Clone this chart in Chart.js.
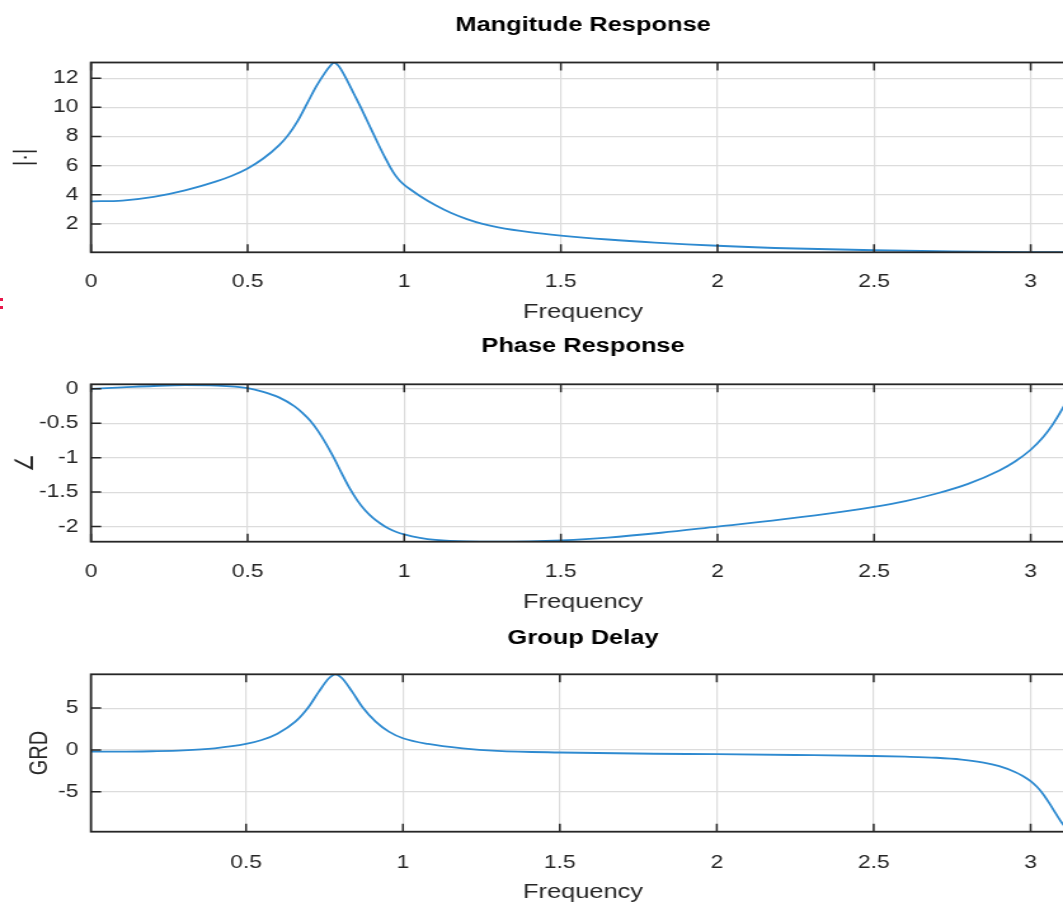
<!DOCTYPE html>
<html>
<head>
<meta charset="utf-8">
<title>Filter Response</title>
<script src="https://cdn.jsdelivr.net/npm/chart.js@4.4.1/dist/chart.umd.min.js"></script>
<style>
  html, body { margin: 0; padding: 0; background: #fff; }
  body { width: 1063px; height: 904px; overflow: hidden; position: relative; }
  /* the plots are drawn narrow and widened, so text and marks keep the wide look */
  .panel { position: absolute; left: 0; transform: scaleX(1.27); transform-origin: 0 0; }
  .panel canvas { display: block; }
  .edge-mark { position: absolute; left: 0; width: 3px; height: 3px; background: #e8174a; }
</style>
</head>
<body>
<div class="panel" style="top:0px"><canvas id="magChart" width="880" height="330"></canvas></div>
<div class="panel" style="top:330px"><canvas id="phaseChart" width="880" height="290"></canvas></div>
<div class="panel" style="top:620px"><canvas id="grdChart" width="880" height="284"></canvas></div>
<div class="edge-mark" style="top:298px"></div>
<div class="edge-mark" style="top:306px"></div>
<script>
// Magnitude |H(w)|
const freqMag = [0, 0.1, 0.2, 0.3, 0.4, 0.45, 0.5, 0.55, 0.6, 0.63, 0.66, 0.69, 0.72, 0.745, 0.762, 0.776, 0.79,
  0.805, 0.82, 0.84, 0.86, 0.88, 0.9, 0.92, 0.94, 0.955, 0.97, 0.985, 1.0, 1.02, 1.05, 1.1, 1.15, 1.2, 1.25, 1.3,
  1.4, 1.5, 1.65, 1.8, 2.0, 2.25, 2.5, 2.75, 3.0, 3.1355];
const magnitude = [3.55, 3.6, 3.85, 4.3, 4.92, 5.31, 5.81, 6.49, 7.39, 8.11, 9.07, 10.27, 11.47, 12.32, 12.8, 13.08,
  12.85, 12.35, 11.75, 10.9, 10.05, 9.15, 8.25, 7.35, 6.5, 5.9, 5.38, 4.98, 4.68, 4.36, 3.92, 3.28, 2.75, 2.33, 2.0,
  1.76, 1.43, 1.2, 0.93, 0.72, 0.5, 0.31, 0.19, 0.11, 0.065, 0.05];

// Phase (rad)
const freqPhase = [0, 0.1, 0.2, 0.3, 0.4, 0.5, 0.55, 0.6, 0.65, 0.675, 0.7, 0.725, 0.75, 0.775, 0.8, 0.825, 0.85,
  0.875, 0.9, 0.925, 0.95, 0.975, 1.0, 1.05, 1.1, 1.2, 1.3, 1.4, 1.5, 1.65, 1.82, 2.0, 2.2, 2.4, 2.5, 2.6, 2.7, 2.8,
  2.9, 2.95, 3.0, 3.04, 3.07, 3.1, 3.12, 3.1355];
const phase = [0, 0.02, 0.04, 0.052, 0.046, 0.01, -0.045, -0.125, -0.255, -0.35, -0.465, -0.615, -0.795, -1.0,
  -1.225, -1.44, -1.62, -1.765, -1.875, -1.96, -2.03, -2.08, -2.115, -2.165, -2.195, -2.217, -2.22, -2.215, -2.2,
  -2.16, -2.09, -2.0, -1.9, -1.785, -1.715, -1.63, -1.52, -1.38, -1.185, -1.055, -0.885, -0.7, -0.52, -0.3, -0.134,
  0.006];

// Group delay (samples)
const freqGrd = [0.006, 0.1, 0.2, 0.3, 0.4, 0.5, 0.55, 0.6, 0.657, 0.7, 0.732, 0.764, 0.785, 0.806, 0.838, 0.87,
  0.913, 0.955, 1.0, 1.08, 1.19, 1.3, 1.5, 1.8, 2.0, 2.25, 2.5, 2.6, 2.7, 2.78, 2.85, 2.9, 2.95, 2.975, 3.0, 3.02,
  3.04, 3.06, 3.08, 3.1, 3.115, 3.1355];
const groupDelay = [-0.2, -0.2, -0.15, -0.05, 0.2, 0.72, 1.19, 1.95, 3.38, 5.17, 6.97, 8.57, 9.04, 8.57, 6.97, 5.17,
  3.38, 2.19, 1.4, 0.72, 0.2, -0.1, -0.3, -0.45, -0.5, -0.6, -0.72, -0.8, -0.93, -1.15, -1.5, -1.93, -2.62, -3.1,
  -3.72, -4.4, -5.28, -6.38, -7.58, -8.72, -9.37, -9.76];

// tick labels
const xTicksFull = [0, 0.5, 1, 1.5, 2, 2.5, 3];
const xTicksGrd = [0.5, 1, 1.5, 2, 2.5, 3];
const magTicks = [2, 4, 6, 8, 10, 12];
const phaseTicks = [-2, -1.5, -1, -0.5, 0];
const grdTicks = [-5, 0, 5];

// axis limits
const magRange = [0.05, 13.08];
const phaseRange = [-2.22, 0.065];
const grdRange = [-9.76, 9.04];

const FONT = "'Liberation Sans', Arial, Helvetica, sans-serif";
const AXIS_COLOR = '#262626';

// box around the axes with inward tick marks on every side
const boxFrame = {
  id: 'boxFrame',
  afterDatasetsDraw(chart) {
    const { ctx, chartArea: a, scales } = chart;
    const tickLen = 8;
    ctx.save();
    ctx.strokeStyle = AXIS_COLOR;
    ctx.lineWidth = 1.5;
    ctx.beginPath();
    scales.x.ticks.forEach(t => {
      const px = scales.x.getPixelForValue(t.value);
      ctx.moveTo(px, a.top); ctx.lineTo(px, a.top + tickLen);
      ctx.moveTo(px, a.bottom); ctx.lineTo(px, a.bottom - tickLen);
    });
    scales.y.ticks.forEach(t => {
      const py = scales.y.getPixelForValue(t.value);
      ctx.moveTo(a.left, py); ctx.lineTo(a.left + tickLen, py);
      ctx.moveTo(a.right, py); ctx.lineTo(a.right - tickLen, py);
    });
    ctx.stroke();
    ctx.lineWidth = 1.8;
    ctx.strokeRect(a.left, a.top, a.right - a.left, a.bottom - a.top);
    ctx.restore();
  }
};

function makeChart(id, cfg) {
  const points = cfg.freq.map((f, i) => ({ x: f, y: cfg.values[i] }));
  return new Chart(document.getElementById(id), {
    type: 'line',
    data: {
      datasets: [{
        data: points,
        borderColor: '#2e8ad0',
        borderWidth: 1.8,
        pointRadius: 0,
        cubicInterpolationMode: 'monotone',
        fill: false
      }]
    },
    options: {
      responsive: false,
      animation: false,
      devicePixelRatio: 1,
      layout: { padding: { left: 0, right: 33.5, top: 0, bottom: cfg.padBottom } },
      plugins: {
        legend: { display: false },
        tooltip: { enabled: false },
        title: {
          display: true,
          text: cfg.title,
          fullSize: false,
          color: '#000',
          font: { family: FONT, size: 20, weight: 'bold', lineHeight: 1.2 },
          padding: { top: cfg.titleTop, bottom: cfg.titleBottom }
        }
      },
      scales: {
        x: {
          type: 'linear',
          min: cfg.xMin,
          max: Math.PI,
          afterBuildTicks: s => { s.ticks = cfg.xTicks.map(v => ({ value: v })); },
          afterFit: s => { s.height = cfg.xAxisHeight; },
          grid: { color: '#dcdcdc', lineWidth: 1.2, drawTicks: false },
          border: { display: false },
          ticks: {
            padding: cfg.xTickPad,
            color: AXIS_COLOR,
            autoSkip: false,
            maxRotation: 0,
            font: { family: FONT, size: 18, lineHeight: 1.2 },
            callback: v => String(v)
          },
          title: {
            display: true,
            text: 'Frequency',
            color: AXIS_COLOR,
            font: { family: FONT, size: 20, lineHeight: 1.2 },
            padding: { top: 0, bottom: 0 }
          }
        },
        y: {
          type: 'linear',
          min: cfg.yRange[0],
          max: cfg.yRange[1],
          afterBuildTicks: s => { s.ticks = cfg.yTicks.map(v => ({ value: v })); },
          afterFit: s => { s.width = 71.65; },
          grid: { color: '#dcdcdc', lineWidth: 1.2, drawTicks: false },
          border: { display: false },
          ticks: {
            padding: 10,
            color: AXIS_COLOR,
            font: { family: FONT, size: 18, lineHeight: 1.2 },
            callback: v => String(v)
          },
          title: {
            display: true,
            text: cfg.yLabel,
            color: AXIS_COLOR,
            font: { family: FONT, size: 20, lineHeight: 1.2 },
            padding: { top: cfg.yTitlePad, bottom: 0 }
          }
        }
      }
    },
    plugins: [boxFrame]
  });
}

makeChart('magChart', {
  freq: freqMag, values: magnitude, title: 'Mangitude Response', yLabel: '|·|',
  xMin: 0, xTicks: xTicksFull, yRange: magRange, yTicks: magTicks,
  titleTop: 13.5, titleBottom: 25, xAxisHeight: 71.7, padBottom: 6, xTickPad: 19.4, yTitlePad: 7.7
});

makeChart('phaseChart', {
  freq: freqPhase, values: phase, title: 'Phase Response', yLabel: '∠',
  xMin: 0, xTicks: xTicksFull, yRange: phaseRange, yTicks: phaseTicks,
  titleTop: 4.5, titleBottom: 25.8, xAxisHeight: 72.3, padBottom: 6, xTickPad: 20, yTitlePad: 8
});

makeChart('grdChart', {
  freq: freqGrd, values: groupDelay, title: 'Group Delay', yLabel: 'GRD',
  xMin: 0.006, xTicks: xTicksGrd, yRange: grdRange, yTicks: grdTicks,
  titleTop: 6.5, titleBottom: 23.8, xAxisHeight: 72.3, padBottom: 0, xTickPad: 21, yTitlePad: 19
});
</script>
</body>
</html>
